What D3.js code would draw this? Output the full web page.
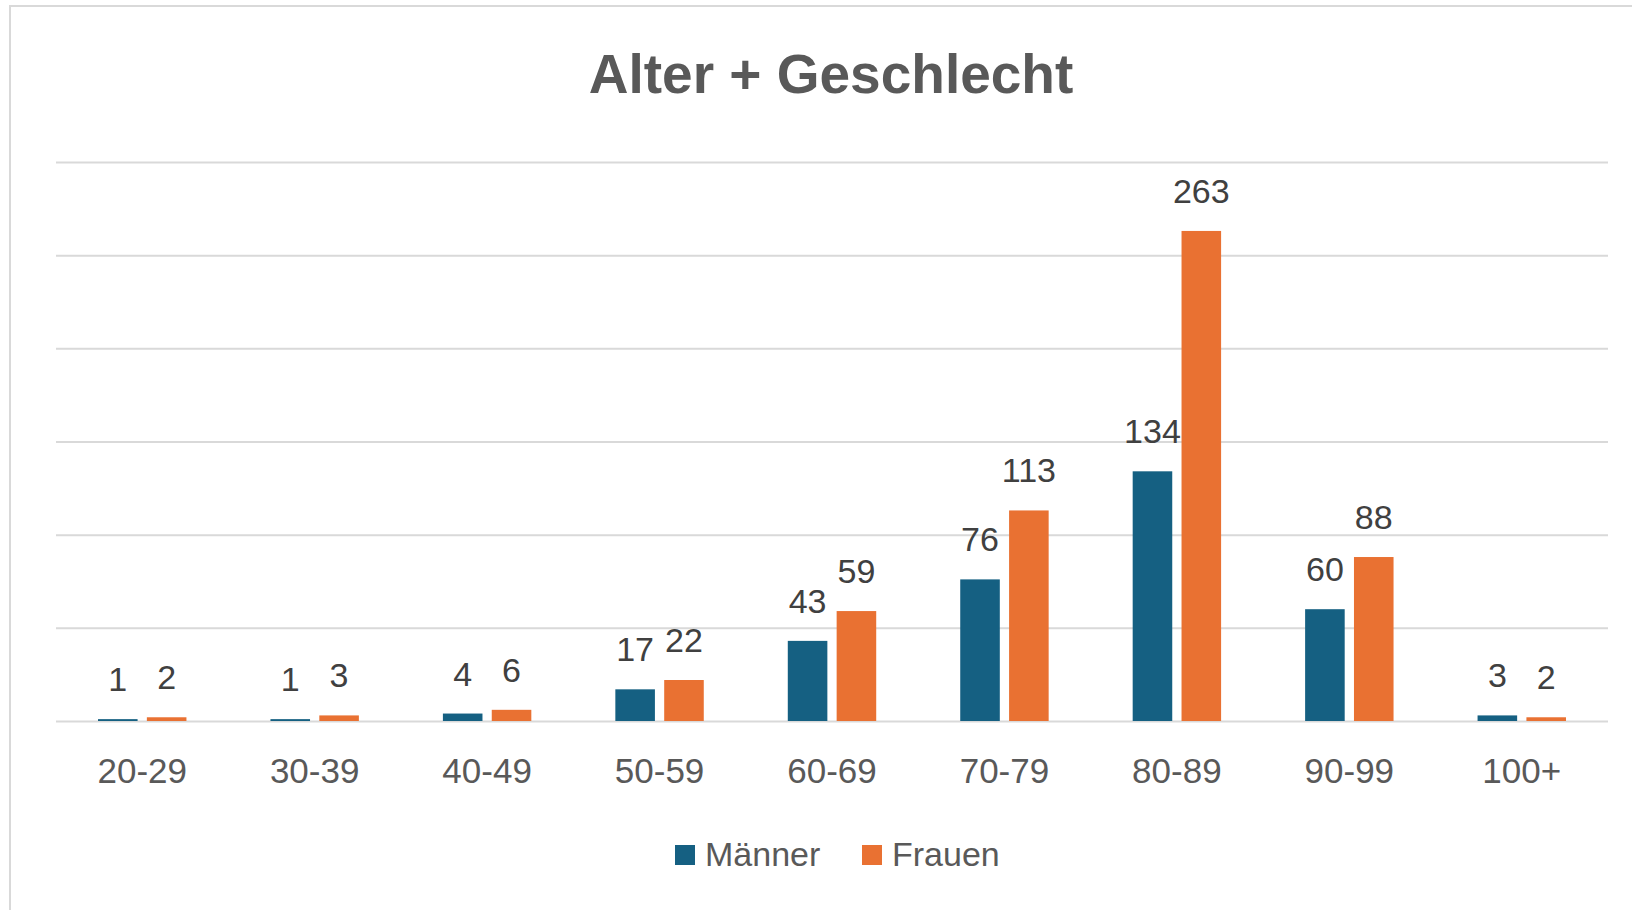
<html>
<head>
  <meta charset="utf-8">
  <script src="https://d3js.org/d3.v7.min.js"></script>
  <style>
  body { margin: 0; background: #fff; }
  text { font-family: "Liberation Sans", Arial, sans-serif; }
  .grid line { stroke: #d9d9d9; stroke-width: 2; }
  </style>
</head>
<body>
  <div id="chart"></div>

<script>
var groups = ["20-29", "30-39", "40-49", "50-59", "60-69", "70-79", "80-89", "90-99", "100+"];
var series = ["Männer", "Frauen"];
var maenner = [1, 1, 4, 17, 43, 76, 134, 60, 3];
var frauen = [2, 3, 6, 22, 59, 113, 263, 88, 2];
var gridTicks = [0, 50, 100, 150, 200, 250, 300];
var colors = ["#156082", "#e97132"];

var width = 1632,
  height = 910;

var svg = d3.select("#chart").append("svg")
    .attr("width", width)
    .attr("height", height);

// chart frame (only top + left edges are visible)
svg.append("rect")
  .attr("x", 10).attr("y", 6)
  .attr("width", 1700).attr("height", 1000)
  .attr("fill", "none")
  .attr("stroke", "#d9d9d9")
  .attr("stroke-width", 2);

var plotLeft = 56, plotRight = 1608, plotTop = 162, plotBottom = 721;

var x0 = d3.scaleBand().domain(groups).range([plotLeft, plotRight]).padding(0);
var x1 = d3.scaleBand().domain(series).range([0, x0.bandwidth()])
  .paddingInner(0.19).paddingOuter(0.86);
var y = d3.scaleLinear().domain([0, 300]).range([plotBottom, plotTop]);

// title
svg.append("text")
  .attr("x", 831)
  .attr("y", 93)
  .attr("text-anchor", "middle")
  .attr("font-size", 55)
  .attr("font-weight", "bold")
  .attr("fill", "#595959")
  .text("Alter + Geschlecht");

// gridlines
svg.append("g")
  .attr("class", "grid")
  .attr("transform", "translate(" + plotLeft + ",0)")
  .call(d3.axisLeft(y).tickValues(gridTicks).tickSize(-(plotRight - plotLeft)).tickFormat(""))
  .call(function(g){ g.select(".domain").remove(); });

// x axis labels
var xAxis = svg.append("g")
  .attr("transform", "translate(0," + plotBottom + ")")
  .call(d3.axisBottom(x0).tickSize(0));
xAxis.select(".domain").remove();
xAxis.selectAll("text")
  .attr("y", 62)
  .attr("dy", null)
  .attr("font-size", 35)
  .attr("fill", "#595959")
  .style("font-family", "Liberation Sans, Arial, sans-serif");

var rows = groups.map(function(g, i){
  return { group: g, values: [maenner[i], frauen[i]] };
});

var grp = svg.selectAll("g.group").data(rows).enter().append("g")
  .attr("class", "group")
  .attr("transform", function(d){ return "translate(" + x0(d.group) + ",0)"; });

grp.selectAll("rect").data(function(d){
    return d.values.map(function(v, j){ return { key: series[j], value: v, idx: j }; });
  }).enter().append("rect")
  .attr("x", function(d){ return x1(d.key); })
  .attr("y", function(d){ return y(d.value); })
  .attr("width", x1.bandwidth())
  .attr("height", function(d){ return plotBottom - y(d.value); })
  .attr("fill", function(d){ return colors[d.idx]; });

grp.selectAll("text.val").data(function(d){
    return d.values.map(function(v, j){ return { key: series[j], value: v }; });
  }).enter().append("text")
  .attr("class", "val")
  .attr("x", function(d){ return x1(d.key) + x1.bandwidth() / 2; })
  .attr("y", function(d){ return y(d.value) - 28; })
  .attr("text-anchor", "middle")
  .attr("font-size", 34)
  .attr("fill", "#404040")
  .text(function(d){ return d.value; });

// legend
var legendX = [675, 862];
var legend = svg.selectAll("g.legend").data(series).enter().append("g")
  .attr("class", "legend")
  .attr("transform", function(d, i){ return "translate(" + legendX[i] + ",845)"; });

legend.append("rect")
  .attr("width", 20).attr("height", 20)
  .attr("fill", function(d, i){ return colors[i]; });

legend.append("text")
  .attr("x", 30)
  .attr("y", 21)
  .attr("font-size", 34)
  .attr("fill", "#595959")
  .text(function(d){ return d; });

</script>
</body></html>
